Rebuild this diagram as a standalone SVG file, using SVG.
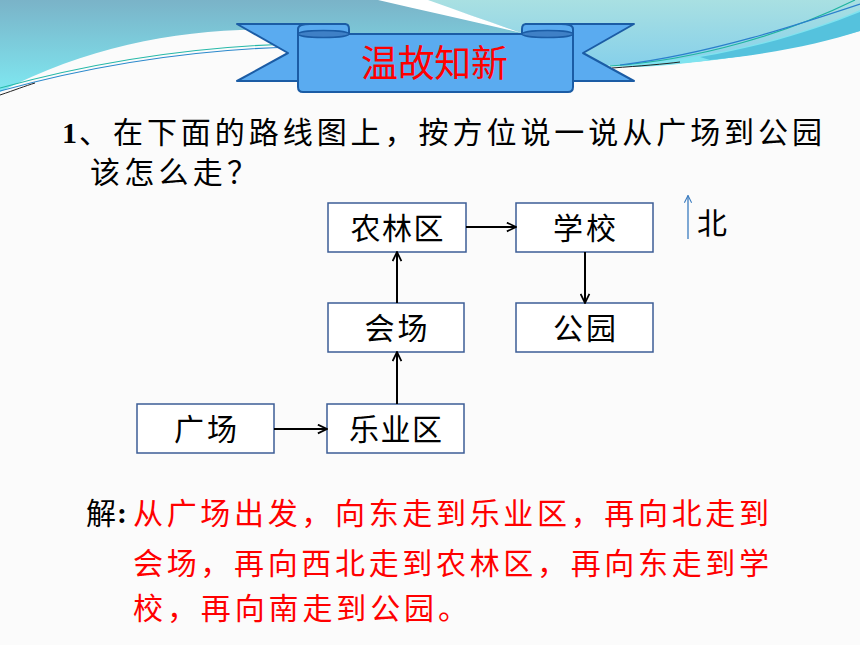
<svg xmlns="http://www.w3.org/2000/svg" width="860" height="645" viewBox="0 0 860 645">
<defs>
<linearGradient id="teal" x1="0" y1="0" x2="0" y2="92" gradientUnits="userSpaceOnUse">
<stop offset="0" stop-color="#7ab3c8"/>
<stop offset="1" stop-color="#7fe8f1"/>
</linearGradient>
<linearGradient id="pale" x1="0" y1="0" x2="0" y2="66" gradientUnits="userSpaceOnUse">
<stop offset="0" stop-color="#a9e0e2"/>
<stop offset="1" stop-color="#86d0ea"/>
</linearGradient>
<marker id="ah" viewBox="0 0 10 10" refX="9.3" refY="5" markerWidth="11" markerHeight="11" markerUnits="userSpaceOnUse" orient="auto">
<path d="M1,1 L9.3,5 L1,9" fill="none" stroke="#000" stroke-width="1.6"/>
</marker>
<marker id="ahN" viewBox="0 0 10 10" refX="9" refY="5" markerWidth="9" markerHeight="9" markerUnits="userSpaceOnUse" orient="auto">
<path d="M1,1 L9,5 L1,9" fill="none" stroke="#3a7bbf" stroke-width="1.2"/>
</marker>
<style>
.cjk{font-family:'Noto Sans CJK SC','Noto Sans CJK JP',sans-serif;}
.box{fill:#ffffff;stroke:#3d5d96;stroke-width:1.5;}
.lbl{font-size:30px;fill:#000;text-anchor:middle;}
.conn{fill:none;stroke:#000;stroke-width:2;marker-end:url(#ah);}
.rib{fill:#5aabf0;stroke:#1b5ca5;stroke-width:2;stroke-linejoin:round;}
.roll{fill:#3f80c6;stroke:#1b5ca5;stroke-width:1.5;}
.red{fill:#ff0000;font-size:30px;}
</style>
</defs>

<!-- background -->
<rect x="0" y="0" width="860" height="645" fill="#fbfbfb"/>
<g id="background">
<path d="M0,0 H860 V30 C800,48 720,62 640,66 C600,67 565,60 540,52 L300,30 C200,26 100,40 0,92 Z" fill="url(#teal)"/>
<path d="M425,0 H860 V30 C800,48 720,62 640,66 C600,67 565,58 525,34 C490,22 460,12 425,0 Z" fill="url(#pale)"/>
<path d="M600,66 C700,62 790,40 860,10 V31 C800,48 720,62 640,67 Z" fill="#7fe3ef"/>
<path d="M700,57 C770,45 820,28 860,12 V31 C820,44 770,54 710,60 Z" fill="#55c2dd"/>
<path d="M378,0 H428 C462,12 495,24 525,34 C478,22 428,12 378,0 Z" fill="#ffffff"/>
<path d="M0,88 C80,66 180,47 292,44" fill="none" stroke="#25b8a8" stroke-width="1.2"/>
<path d="M0,91 C80,69 180,50 292,47" fill="none" stroke="#2a88cc" stroke-width="1.2"/>
<path d="M0,95 C15,90 25,86 35,83" fill="none" stroke="#222" stroke-width="1"/>
<path d="M610,66 C700,60 790,32 855,0" fill="none" stroke="#20b4a0" stroke-width="1.2"/>
<path d="M620,65 C710,54 800,24 860,4" fill="none" stroke="#2a7fcc" stroke-width="1.2"/>
<path d="M612,68 C640,66 665,64 680,62" fill="none" stroke="#222" stroke-width="1"/>
</g>

<!-- title ribbon -->
<g id="title">
<polygon class="rib" points="237,24 345,24 345,81 237,81 288,53"/>
<polygon class="rib" points="634,24 526,24 526,81 634,81 583,53"/>
<path class="rib" d="M298,34 V29 Q298,24 310,24 H345 Q349,24 349,29 V38 H298 Z"/>
<path class="rib" d="M522,34 V29 Q522,24 526,24 H561 Q573,24 573,29 V38 H522 Z"/>
<path class="rib" d="M298,34 H573 V87 Q573,92 568,92 H303 Q298,92 298,87 Z"/>
<ellipse class="roll" cx="323.5" cy="34" rx="25.5" ry="3.5"/>
<ellipse class="roll" cx="547.5" cy="34" rx="25.5" ry="3.5"/>
<text class="cjk" x="361" y="77" font-size="37" fill="#ff0000" textLength="147" lengthAdjust="spacing">温故知新</text>
</g>

<!-- question -->
<g id="question">
<text x="62" y="143" font-family="'Liberation Serif',serif" font-weight="bold" font-size="30" fill="#000">1</text>
<text class="cjk" x="79" y="143" font-size="30" fill="#000" textLength="743" lengthAdjust="spacing">、在下面的路线图上，按方位说一说从广场到公园</text>
<text class="cjk" x="90" y="183" font-size="30" fill="#000" textLength="167" lengthAdjust="spacing">该怎么走？</text>
</g>

<!-- nodes -->
<g id="node-nonglinqu">
<rect class="box" x="328" y="203" width="138" height="49"/>
<text class="cjk lbl" x="397" y="239" letter-spacing="1.5" dx="0.75">农林区</text>
</g>
<g id="node-xuexiao">
<rect class="box" x="516" y="203" width="137" height="49"/>
<text class="cjk lbl" x="584.5" y="239" letter-spacing="3" dx="1.5">学校</text>
</g>
<g id="node-huichang">
<rect class="box" x="328" y="303" width="136" height="49"/>
<text class="cjk lbl" x="396" y="339" letter-spacing="3" dx="1.5">会场</text>
</g>
<g id="node-gongyuan">
<rect class="box" x="516" y="303" width="137" height="49"/>
<text class="cjk lbl" x="584.5" y="339" letter-spacing="3" dx="1.5">公园</text>
</g>
<g id="node-guangchang">
<rect class="box" x="137" y="404" width="137" height="49"/>
<text class="cjk lbl" x="205.5" y="440" letter-spacing="3" dx="1.5">广场</text>
</g>
<g id="node-leyequ">
<rect class="box" x="327" y="404" width="137" height="49"/>
<text class="cjk lbl" x="395.5" y="440" letter-spacing="1.5" dx="0.75">乐业区</text>
</g>

<!-- connectors -->
<g id="connectors">
<path class="conn" d="M466,227 H516"/>
<path class="conn" d="M585,252 V303"/>
<path class="conn" d="M397,303 V252"/>
<path class="conn" d="M397,404 V352"/>
<path class="conn" d="M274,429 H327"/>
</g>

<!-- north indicator -->
<g id="north">
<path d="M688,239 V195.5" fill="none" stroke="#3a7bbf" stroke-width="1.3" marker-end="url(#ahN)"/>
<text class="cjk" x="697" y="234" font-size="30" fill="#000">北</text>
</g>

<!-- answer -->
<g id="answer">
<text class="cjk" x="86" y="524" font-size="30" fill="#000">解</text>
<text x="117" y="523" font-family="'Liberation Serif',serif" font-weight="bold" font-size="30" fill="#000">:</text>
<text class="cjk red" x="133" y="524" textLength="636" lengthAdjust="spacing">从广场出发，向东走到乐业区，再向北走到</text>
<text class="cjk red" x="133" y="574" textLength="636" lengthAdjust="spacing">会场，再向西北走到农林区，再向东走到学</text>
<text class="cjk red" x="133" y="619" textLength="335" lengthAdjust="spacing">校，再向南走到公园。</text>
</g>
</svg>
